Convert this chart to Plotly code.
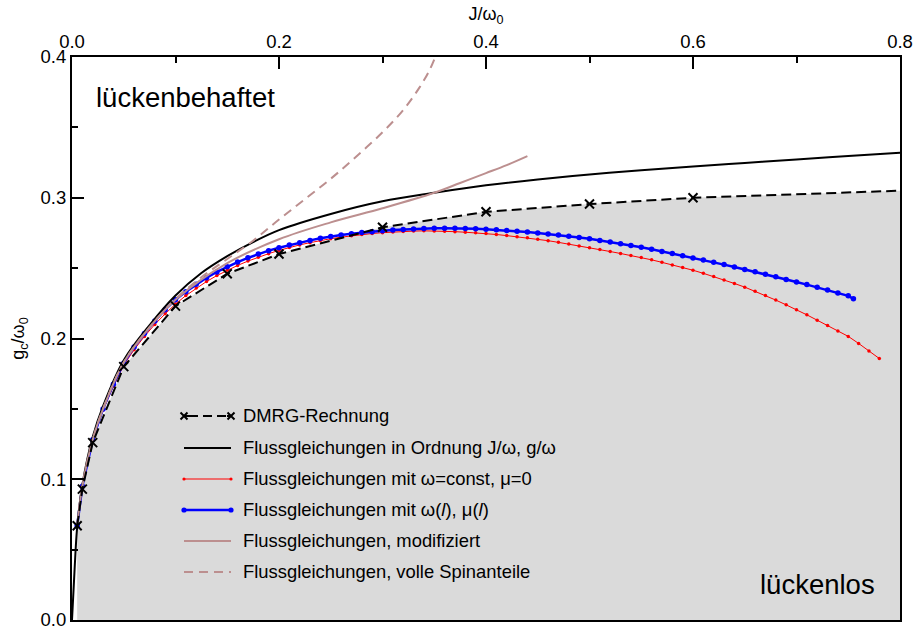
import plotly.graph_objects as go

# ---------------- data ----------------
dmrg_J = [0.005, 0.01, 0.02, 0.05, 0.1, 0.15, 0.2, 0.3, 0.4, 0.5, 0.6, 0.8]
dmrg_g = [0.067, 0.093, 0.126, 0.180, 0.223, 0.246, 0.260, 0.279, 0.290, 0.2955, 0.300, 0.305]

fg_J = [0.0, 0.0025, 0.005, 0.01, 0.02, 0.03, 0.05, 0.075, 0.1, 0.125, 0.15, 0.175, 0.2, 0.25,
        0.3, 0.35, 0.4, 0.45, 0.5, 0.55, 0.6, 0.65, 0.7, 0.75, 0.8]
fg_g = [0.0, 0.036, 0.066, 0.096, 0.130, 0.152, 0.1846, 0.2095, 0.2305, 0.2465, 0.2585, 0.2685,
        0.277, 0.2885, 0.2975, 0.3035, 0.3088, 0.313, 0.3165, 0.3195, 0.3222, 0.3247, 0.3272,
        0.3296, 0.332]

red_J = [0.01, 0.02, 0.03, 0.04, 0.05, 0.06, 0.07, 0.08, 0.09, 0.10, 0.11, 0.12, 0.13, 0.14,
         0.15, 0.16, 0.17, 0.18, 0.19, 0.20, 0.21, 0.22, 0.23, 0.24, 0.25, 0.26, 0.27, 0.28,
         0.29, 0.30, 0.31, 0.32, 0.33, 0.34, 0.35, 0.36, 0.37, 0.38, 0.39, 0.40, 0.41, 0.42,
         0.43, 0.44, 0.45, 0.46, 0.47, 0.48, 0.49, 0.50, 0.51, 0.52, 0.53, 0.54, 0.55, 0.56,
         0.57, 0.58, 0.59, 0.60, 0.61, 0.62, 0.63, 0.64, 0.65, 0.66, 0.67, 0.68, 0.69, 0.70,
         0.71, 0.72, 0.73, 0.74, 0.75, 0.76, 0.77, 0.78]
red_g = [0.095, 0.128, 0.149, 0.166, 0.181, 0.192, 0.2015, 0.210, 0.2175, 0.2245, 0.2305,
         0.2358, 0.2405, 0.2447, 0.2485, 0.2519, 0.2550, 0.2578, 0.2603, 0.2626, 0.2647,
         0.2665, 0.2681, 0.2696, 0.2709, 0.2720, 0.2730, 0.2739, 0.2746, 0.2752, 0.2757,
         0.2761, 0.2763, 0.2765, 0.2764, 0.2762, 0.2759, 0.2755, 0.2751, 0.2746, 0.2739,
         0.2731, 0.2723, 0.2715, 0.2706, 0.2695, 0.2683, 0.2671, 0.2658, 0.2645, 0.2632,
         0.2618, 0.2604, 0.2590, 0.2575, 0.2559, 0.2541, 0.2523, 0.2504, 0.2485, 0.2463,
         0.2440, 0.2416, 0.2391, 0.2365, 0.2336, 0.2305, 0.2273, 0.2239, 0.2205, 0.2168,
         0.2130, 0.2092, 0.2054, 0.2015, 0.1965, 0.1912, 0.1858]

blue_J = [0.005, 0.01, 0.02, 0.03, 0.04, 0.05, 0.06, 0.07, 0.08, 0.09, 0.10, 0.11, 0.12, 0.13,
          0.14, 0.15, 0.16, 0.17, 0.18, 0.19, 0.20, 0.21, 0.22, 0.23, 0.24, 0.25, 0.26, 0.27,
          0.28, 0.29, 0.30, 0.31, 0.32, 0.33, 0.34, 0.35, 0.36, 0.37, 0.38, 0.39, 0.40, 0.41,
          0.42, 0.43, 0.44, 0.45, 0.46, 0.47, 0.48, 0.49, 0.50, 0.51, 0.52, 0.53, 0.54, 0.55,
          0.56, 0.57, 0.58, 0.59, 0.60, 0.61, 0.62, 0.63, 0.64, 0.65, 0.66, 0.67, 0.68, 0.69,
          0.70, 0.71, 0.72, 0.73, 0.74, 0.75, 0.755]
blue_g = [0.067, 0.095, 0.128, 0.150, 0.1675, 0.1825, 0.194, 0.2035, 0.2125, 0.2205, 0.2275,
          0.2333, 0.2385, 0.2432, 0.2473, 0.2510, 0.2543, 0.2573, 0.2600, 0.2624, 0.2645,
          0.2664, 0.2681, 0.2697, 0.2712, 0.2725, 0.2736, 0.2745, 0.2753, 0.2759, 0.2765,
          0.2770, 0.2774, 0.2778, 0.2781, 0.2783, 0.2784, 0.2784, 0.2782, 0.2780, 0.2776,
          0.2772, 0.2767, 0.2762, 0.2756, 0.2749, 0.2742, 0.2735, 0.2727, 0.2718, 0.2708,
          0.2697, 0.2686, 0.2674, 0.2661, 0.2648, 0.2634, 0.2619, 0.2604, 0.2588, 0.2572,
          0.2557, 0.2541, 0.2525, 0.2508, 0.2491, 0.2474, 0.2456, 0.2438, 0.2420, 0.2402,
          0.2383, 0.2364, 0.2344, 0.2324, 0.2303, 0.2282, 0.2275]

mod_J = [0.005, 0.01, 0.02, 0.03, 0.05, 0.075, 0.1, 0.15, 0.2, 0.25, 0.3, 0.35, 0.375, 0.4,
         0.42, 0.44]
mod_g = [0.067, 0.095, 0.128, 0.150, 0.183, 0.208, 0.2275, 0.2535, 0.2705, 0.2825, 0.2925,
         0.3035, 0.3105, 0.3175, 0.3232, 0.3296]

spin_J = [0.005, 0.01, 0.02, 0.03, 0.05, 0.075, 0.1, 0.125, 0.15, 0.175, 0.2, 0.225, 0.25,
          0.275, 0.3, 0.32, 0.335, 0.345, 0.351]
spin_g = [0.067, 0.095, 0.128, 0.150, 0.183, 0.208, 0.228, 0.2435, 0.2565, 0.2695, 0.2845,
          0.299, 0.3135, 0.3295, 0.3465, 0.3623, 0.3775, 0.390, 0.400]

x_ticks = [0.0, 0.2, 0.4, 0.6, 0.8]
y_ticks = [0.0, 0.1, 0.2, 0.3, 0.4]

legend_labels = [
    "DMRG-Rechnung",
    "Flussgleichungen in Ordnung J/ω, g/ω",
    "Flussgleichungen mit ω=const, μ=0",
    "Flussgleichungen mit ω(<i>l</i>), μ(<i>l</i>)",
    "Flussgleichungen, modifiziert",
    "Flussgleichungen, volle Spinanteile",
]

# ---------------- styling ----------------
FONT = "Liberation Sans, Arial, Helvetica, sans-serif"
BROWN = "rgb(188,143,143)"
GRAY = "rgb(218,218,218)"
W, H = 914, 633
ML, MR, MT, MB = 72, 14, 57, 13
PW, PH = W - ML - MR, H - MT - MB


def pxx(x):
    return (x - ML) / PW


def pxy(y):
    return (H - MB - y) / PH


fig = go.Figure()

# gapless region (fill under DMRG)
fig.add_trace(go.Scatter(x=dmrg_J, y=dmrg_g, mode="lines", fill="tozeroy", fillcolor=GRAY,
                         line=dict(color="rgba(0,0,0,0)", width=0),
                         name="lückenlos", showlegend=False, hoverinfo="skip"))
fig.add_trace(go.Scatter(x=red_J, y=red_g, mode="lines+markers", line=dict(color="red", width=1),
                         marker=dict(color="red", size=3.5), name=legend_labels[2], showlegend=False))
fig.add_trace(go.Scatter(x=blue_J, y=blue_g, mode="lines+markers", line=dict(color="blue", width=2.5),
                         marker=dict(color="blue", size=5.5), name=legend_labels[3], showlegend=False))
fig.add_trace(go.Scatter(x=fg_J, y=fg_g, mode="lines", line=dict(color="black", width=2, shape="spline"),
                         name=legend_labels[1], showlegend=False))
fig.add_trace(go.Scatter(x=mod_J, y=mod_g, mode="lines", line=dict(color=BROWN, width=2, shape="spline"),
                         name=legend_labels[4], showlegend=False))
fig.add_trace(go.Scatter(x=spin_J, y=spin_g, mode="lines",
                         line=dict(color=BROWN, width=2, dash="9px,6px", shape="spline"),
                         name=legend_labels[5], showlegend=False))
fig.add_trace(go.Scatter(x=dmrg_J, y=dmrg_g, mode="lines",
                         line=dict(color="black", width=2, dash="10px,5px"),
                         name=legend_labels[0], showlegend=False))
fig.add_trace(go.Scatter(x=dmrg_J[:-1], y=dmrg_g[:-1], mode="markers",
                         marker=dict(symbol="x-thin", size=9, line=dict(width=2, color="black")),
                         name=legend_labels[0], showlegend=False))

# ---------------- hand-drawn legend ----------------
rows = [416, 448, 479, 510, 541, 572]
sx0, sx1, tx = 184, 231, 241
shapes = []
styles = [
    dict(color="black", width=2, dash="9px,5px"),
    dict(color="black", width=2),
    dict(color="red", width=1),
    dict(color="blue", width=2.5),
    dict(color=BROWN, width=2),
    dict(color=BROWN, width=2, dash="9px,6px"),
]
for i, (r, st) in enumerate(zip(rows, styles)):
    x0, x1 = (sx0 + 5, sx1 - 4) if i == 0 else (sx0, sx1)
    shapes.append(dict(type="line", xref="paper", yref="paper", x0=pxx(x0), x1=pxx(x1),
                       y0=pxy(r), y1=pxy(r), line=st, layer="above"))
# short solid stubs joining the DMRG crosses
for a, b in ((sx0, sx0 + 5), (sx1 - 4, sx1)):
    shapes.append(dict(type="line", xref="paper", yref="paper", x0=pxx(a), x1=pxx(b),
                       y0=pxy(rows[0]), y1=pxy(rows[0]), line=dict(color="black", width=2), layer="above"))
# crosses for DMRG legend sample
for cx in (sx0, sx1):
    d = 3.5
    path = "M{},{} L{},{} M{},{} L{},{}".format(pxx(cx - d), pxy(rows[0] - d), pxx(cx + d), pxy(rows[0] + d),
                                              pxx(cx - d), pxy(rows[0] + d), pxx(cx + d), pxy(rows[0] - d))
    shapes.append(dict(type="path", xref="paper", yref="paper", path=path,
                       line=dict(color="black", width=2), layer="above"))
# dots for the red and blue legend samples
for r, col, rad in ((rows[2], "red", 1.6), (rows[3], "blue", 2.6)):
    for cx in (sx0, sx1):
        shapes.append(dict(type="circle", xref="paper", yref="paper",
                           x0=pxx(cx - rad), x1=pxx(cx + rad), y0=pxy(r + rad), y1=pxy(r - rad),
                           fillcolor=col, line=dict(color=col, width=0), layer="above"))

annotations = []
for r, lab in zip(rows, legend_labels):
    annotations.append(dict(text=lab, xref="paper", yref="paper", x=pxx(tx), y=pxy(r - 0.5),
                            xanchor="left", yanchor="middle", showarrow=False,
                            font=dict(family=FONT, size=18.4, color="black")))
annotations.append(dict(text="lückenbehaftet", xref="paper", yref="paper", x=pxx(94), y=pxy(97),
                        xanchor="left", yanchor="middle", showarrow=False,
                        font=dict(family=FONT, size=27.5, color="black")))
annotations.append(dict(text="lückenlos", xref="paper", yref="paper", x=pxx(877), y=pxy(584),
                        xanchor="right", yanchor="middle", showarrow=False,
                        font=dict(family=FONT, size=27.5, color="black")))

axis_common = dict(showline=True, linewidth=2, linecolor="black", mirror=True,
                   ticks="inside", ticklen=12, tickwidth=2, tickcolor="black",
                   showgrid=False, zeroline=False, tickformat=".1f", automargin=False,
                   tickfont=dict(family=FONT, size=18.5, color="black"),
                   minor=dict(ticks="inside", ticklen=6, tickwidth=2, tickcolor="black", showgrid=False))

fig.update_layout(
    width=W, height=H,
    margin=dict(l=ML, r=MR, t=MT, b=MB, pad=0, autoexpand=False),
    paper_bgcolor="white", plot_bgcolor="white",
    showlegend=False,
    font=dict(family=FONT, color="black"),
    xaxis=dict(axis_common, range=[0, 0.8], side="top", tickvals=x_ticks,
               minor=dict(axis_common["minor"], dtick=0.1, tick0=0),
               title=dict(text="J/ω<sub>0</sub>", font=dict(family=FONT, size=18), standoff=5)),
    yaxis=dict(axis_common, range=[0, 0.4], tickvals=y_ticks,
               minor=dict(axis_common["minor"], dtick=0.05, tick0=0),
               title=dict(text="g<sub>c</sub>/ω<sub>0</sub>", font=dict(family=FONT, size=18), standoff=11)),
    shapes=shapes,
    annotations=annotations,
)

fig.write_html("out.html")
